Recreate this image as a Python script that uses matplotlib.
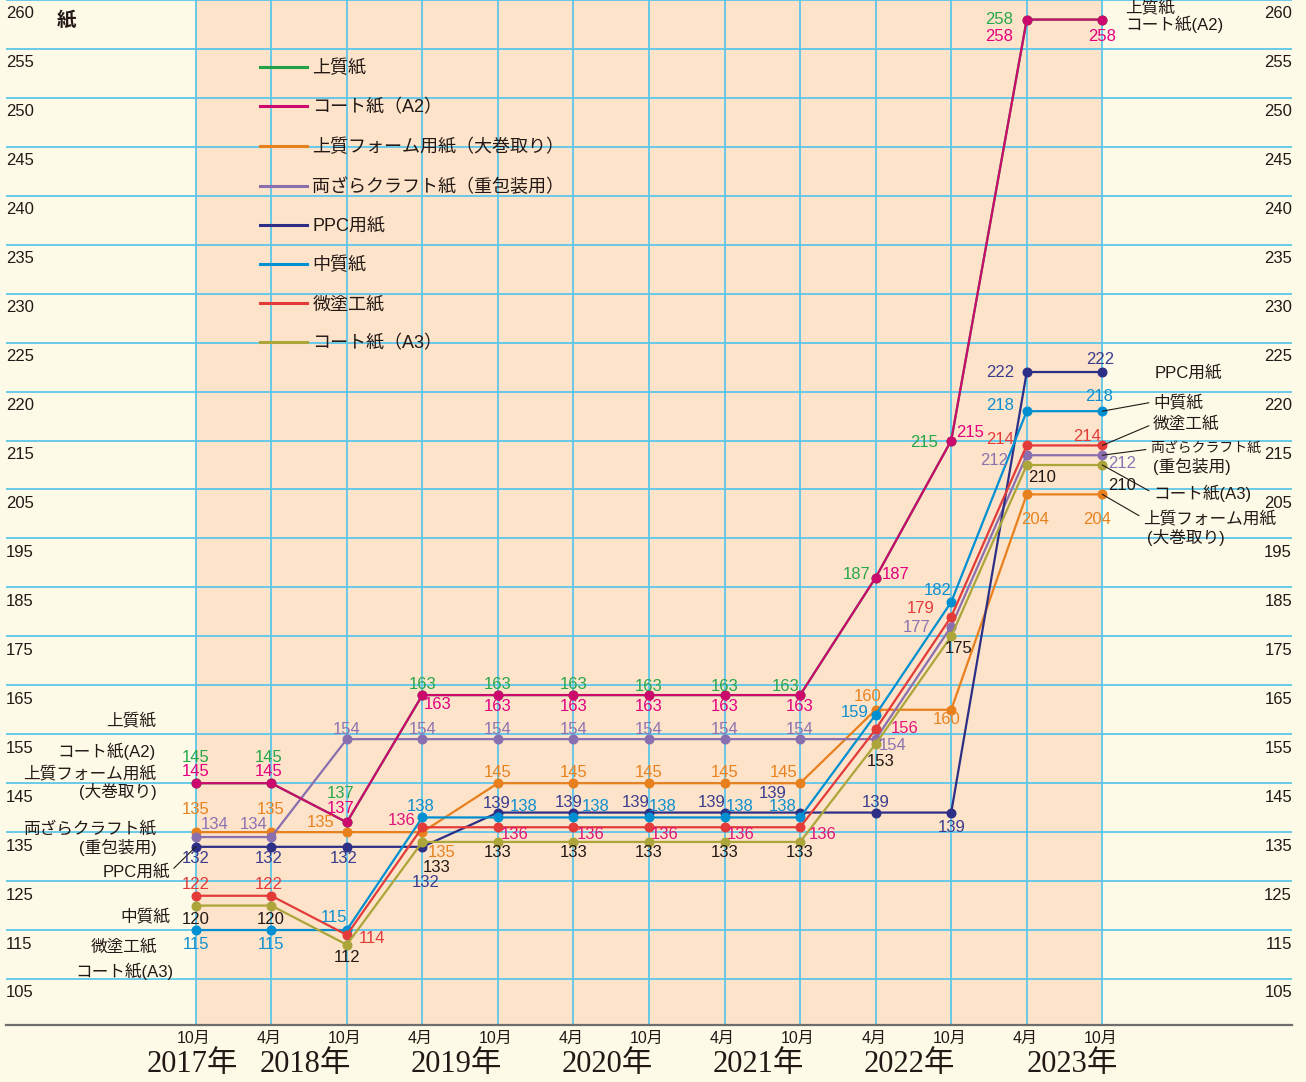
import numpy as np
import matplotlib.pyplot as plt

plt.rcParams['font.family'] = ['Liberation Sans', 'Noto Sans CJK JP']

W, H = 1306, 1082

# --- data -------------------------------------------------------------
months = ['10月', '4月', '10月', '4月', '10月', '4月', '10月', '4月', '10月', '4月', '10月', '4月', '10月']
years = ['2017年', '2018年', '2019年', '2020年', '2021年', '2022年', '2023年']
year_pos = [-0.04, 1.45, 3.45, 5.45, 7.45, 9.45, 11.6]

names = ['上質紙', 'コート紙（A2）', '上質フォーム用紙（大巻取り）', '両ざらクラフト紙（重包装用）',
         'PPC用紙', '中質紙', '微塗工紙', 'コート紙（A3）']
joshitsu = [145, 145, 137, 163, 163, 163, 163, 163, 163, 187, 215, 258, 258]
coat_a2 = [145, 145, 137, 163, 163, 163, 163, 163, 163, 187, 215, 258, 258]
form = [135, 135, 135, 135, 145, 145, 145, 145, 145, 160, 160, 204, 204]
kraft = [134, 134, 154, 154, 154, 154, 154, 154, 154, 154, 177, 212, 212]
ppc = [132, 132, 132, 132, 139, 139, 139, 139, 139, 139, 139, 222, 222]
chushitsu = [115, 115, 115, 138, 138, 138, 138, 138, 138, 159, 182, 218, 218]
bitoko = [122, 122, 114, 136, 136, 136, 136, 136, 136, 156, 179, 214, 214]
coat_a3 = [120, 120, 112, 133, 133, 133, 133, 133, 133, 153, 175, 210, 210]

y_ticks = [105, 115, 125, 135, 145, 155, 165, 175, 185, 195, 205, 215,
           220, 225, 230, 235, 240, 245, 250, 255, 260]

# --- styles -----------------------------------------------------------
bg = '#FEFAE8'
peach = '#FDE3C9'
gridc = '#5CC6EA'
txt = '#231815'

line_cols = ['#22A048', '#CC0A6E', '#E8801E', '#8A6FB0', '#2D2F86', '#0090D2', '#E23B3A', '#ABA53A']
lab_cols = ['#27A74A', '#E3007F', '#E8821F', '#8C73B1', '#3A3C8E', '#0D8FD0', '#E23B3A', txt]

# label offsets in pixels (dx, dy downwards) for every point
offs = [
    [(0, -26), (-3, -26), (-6, -29), (0, -11), (0, -11), (0, -11), (0, -9), (0, -9), (-14, -9),
     (-19, -3), (-27, 2), (-28, 0), None],
    [(0, -12), (-3, -12), (-6, -14), (15, 9), (0, 11), (0, 11), (0, 11), (0, 11), (0, 11),
     (20, -3), (19, -8), (-28, 17), (0, 17)],
    [(0, -23), (-1, -23), (-26, -10), (19, 20), (0, -11), (0, -11), (0, -11), (0, -11), (-16, -11),
     (-8, -13), (-5, 10), (8, 25), (-5, 25)],
    [(19, -13), (-18, -13), (0, -10), (0, -10), (0, -10), (0, -10), (0, -10), (0, -10), (0, -10),
     (17, 6), (-35, 1), (-33, 5), (20, 8)],
    [(0, 12), (-3, 12), (-3, 12), (3, 36), (-1, -9), (-5, -10), (-13, -10), (-13, -10), (-27, -19),
     (0, -10), (0, 15), (-27, 0), (-2, -13)],
    [(0, 14), (0, 14), (-13, -13), (-2, -11), (26, -11), (22, -11), (14, -11), (15, -11), (-17, -11),
     (-21, -2), (-14, -12), (-27, -6), (-3, -15)],
    [(0, -11), (-3, -11), (25, 4), (-21, -7), (17, 7), (17, 7), (16, 7), (16, 7), (23, 7),
     (29, -1), (-31, -8), (-27, -6), (-15, -9)],
    [(0, 14), (-1, 14), (0, 13), (14, 26), (0, 11), (0, 11), (0, 11), (0, 11), (0, 11),
     (5, 17), (7, 12), (15, 12), (20, 20)],
]
# the 微塗工紙 labels in the middle are printed in pink
red_lab = ['#E23B3A'] * 3 + ['#E2157A'] * 7 + ['#E23B3A'] * 3


def fwd(v):
    v = np.asarray(v, dtype=float)
    return np.where(v <= 215, v, 215 + 2 * (v - 215))


def inv(t):
    t = np.asarray(t, dtype=float)
    return np.where(t <= 215, t, 215 + (t - 215) / 2)


fig = plt.figure(figsize=(W / 100, H / 100), dpi=100, facecolor=bg)
ax = fig.add_axes([6 / W, 1 - 1025 / H, (1292 - 6) / W, 1025 / H])
ax.set_facecolor(bg)
ax.set_yscale('function', functions=(fwd, inv))
ax.set_ylim(95.6, 259.8)
ax.set_xlim(-2.511, 14.511)

x = np.arange(len(months))
ax.axvspan(0, 12, color=peach, zorder=0.2, lw=0)

ax.set_yticks(y_ticks)
ax.set_xticks(x)
ax.set_axisbelow(True)
ax.grid(True, color=gridc, lw=1.3)
ax.tick_params(left=False, bottom=False, labelleft=False, labelbottom=False)
for s in ['top', 'left', 'right']:
    ax.spines[s].set_visible(False)
ax.spines['bottom'].set_color('#6E6E6E')
ax.spines['bottom'].set_linewidth(1.6)

series = [joshitsu, coat_a2, form, kraft, ppc, chushitsu, bitoko, coat_a3]
handles = []
for k, vals in enumerate(series):
    h, = ax.plot(x, vals, color=line_cols[k], lw=1.6, marker='o', ms=6.2, zorder=3 + (k == 1) * 0.5)
    handles.append(h)
    for i, v in enumerate(vals):
        o = offs[k][i]
        if o is None:
            continue
        c = red_lab[i] if k == 6 else lab_cols[k]
        ax.annotate(str(v), (i, v), xytext=(o[0], -o[1]), textcoords='offset pixels',
                    ha='center', va='center', fontsize=12, color=c, zorder=5)

# y tick labels on both sides, just under each grid line
yt = ax.get_yaxis_transform()
for v in y_ticks:
    ax.annotate(str(v), (0, v), xycoords=yt, xytext=(0, -14), textcoords='offset pixels',
                ha='left', va='center', fontsize=12, color=txt)
    ax.annotate(str(v), (1, v), xycoords=yt, xytext=(0, -14), textcoords='offset pixels',
                ha='right', va='center', fontsize=12, color=txt)

# x labels
xt = ax.get_xaxis_transform()
for i, m in enumerate(months):
    ax.annotate(m, (i, 0), xycoords=xt, xytext=(-2, -13), textcoords='offset pixels',
                ha='center', va='center', fontsize=11.5, color=txt, annotation_clip=False)
for p, yl in zip(year_pos, years):
    ax.annotate(yl, (p, 0), xycoords=xt, xytext=(0, -40), textcoords='offset pixels',
                ha='center', va='center', fontsize=22, color=txt, annotation_clip=False,
                family=['Liberation Serif', 'Noto Sans CJK JP'])

fig.text(66 / W, 1 - 20 / H, '紙', fontsize=14, fontweight='bold', color=txt,
         ha='center', va='center', family=['Noto Sans CJK JP'])

# legend
leg = ax.legend(handles, names, loc='upper left', bbox_to_anchor=(260 / W, 1 - 60 / H),
                bbox_transform=fig.transFigure, frameon=False, fontsize=13,
                handlelength=2.6, handletextpad=0.3, labelspacing=1.22,
                borderpad=0, borderaxespad=0)
for lh in leg.get_lines():
    lh.set_linewidth(2.2)
    lh.set_marker('')
for t in leg.get_texts():
    t.set_color(txt)


def ftext(px, py, s, ha='right', size=12):
    fig.text(px / W, 1 - py / H, s, fontsize=size, color=txt, ha=ha, va='center')


# left side series names
ftext(156, 720, '上質紙')
ftext(156, 751, 'コート紙(A2)')
ftext(156, 773, '上質フォーム用紙')
ftext(157, 791, '(大巻取り)')
ftext(156, 829, '両ざらクラフト紙')
ftext(157, 847, '(重包装用)')
ftext(170, 916, '中質紙')
ftext(157, 947, '微塗工紙')
ftext(173, 971, 'コート紙(A3)')
lead = dict(arrowstyle='-', color=txt, lw=0.8, shrinkA=1, shrinkB=0)
ax.annotate('PPC用紙', (0, ppc[0]), xytext=(170, H - 872), textcoords='figure pixels',
            ha='right', va='center', fontsize=12, color=txt,
            arrowprops=dict(lead, relpos=(1, 0.5)))

# right side series names
ftext(1125, 7, '上質紙', ha='left')
ftext(1125, 24, 'コート紙(A2)', ha='left')
ftext(1155, 373, 'PPC用紙', ha='left')
right_leads = [(chushitsu, 1153, 402, '中質紙', 12), (bitoko, 1153, 424, '微塗工紙', 12),
               (kraft, 1150, 449, '両ざらクラフト紙', 10), (coat_a3, 1153, 493, 'コート紙(A3)', 12),
               (form, 1143, 518, '上質フォーム用紙', 12)]
for vals, px, py, s, fs in right_leads:
    ax.annotate(s, (12, vals[12]), xytext=(px, H - py), textcoords='figure pixels',
                ha='left', va='center', fontsize=fs, color=txt, annotation_clip=False,
                arrowprops=dict(lead, relpos=(0, 0.5)))
ftext(1153, 466, '(重包装用)', ha='left')
ftext(1147, 537, '(大巻取り)', ha='left')

fig.savefig('out.png', dpi=100, facecolor=bg)
